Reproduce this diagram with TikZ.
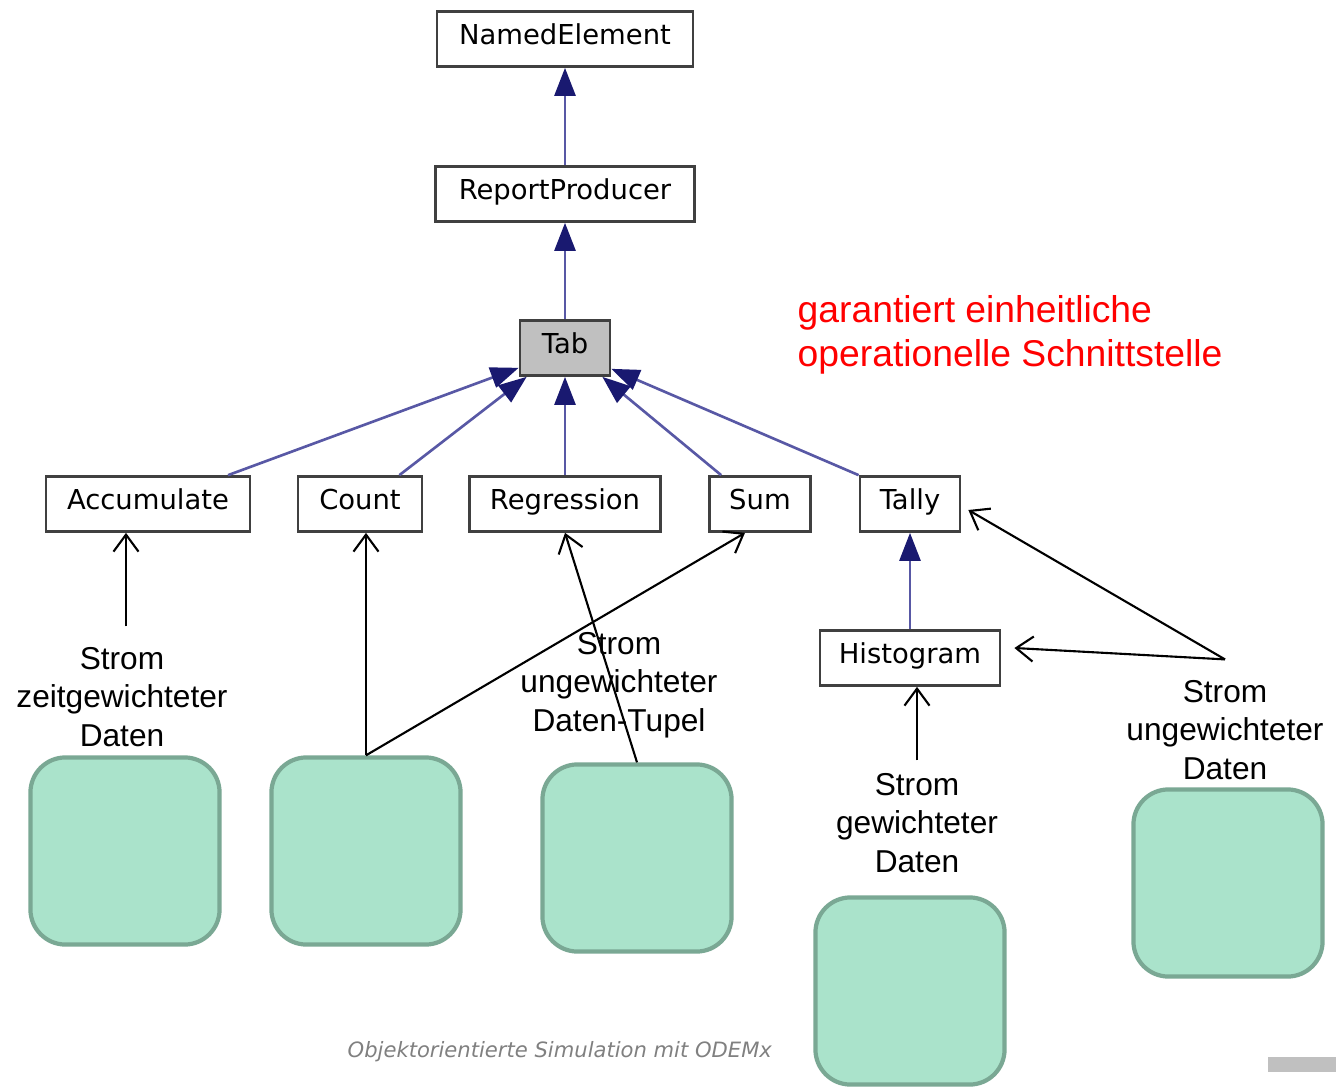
\documentclass[tikz,border=0pt]{standalone}
\usepackage{fontspec}
\setmainfont{Liberation Sans}
\newfontfamily\umlfont{DejaVu Sans}
\usetikzlibrary{calc,arrows.meta}

\definecolor{umlline}{RGB}{88,88,165}
\definecolor{umlhead}{RGB}{25,25,112}
\definecolor{tabgray}{RGB}{192,192,192}
\definecolor{srcfill}{RGB}{170,227,203}
\definecolor{srcdraw}{RGB}{122,168,148}
\definecolor{footgray}{RGB}{128,128,128}

\tikzset{
  umlclass/.style={draw=black!75, line width=0.75pt, minimum height=0.55cm, inner sep=0pt,
    text height=5.7pt, text depth=2.3pt, font=\umlfont\fontsize{7.8}{9}\selectfont},
  gen/.style={draw=umlline, line width=0.75pt, -{Triangle[length=0.28cm,width=0.21cm,color=umlhead]}},
  flow/.style={draw=black, line width=0.6pt, -{Straight Barb[length=0.17cm,width=0.25cm]}},
  source/.style={draw=srcdraw, fill=srcfill, line width=1.2pt, rounded corners=0.35cm,
    minimum width=1.89cm, minimum height=1.87cm},
  stream/.style={align=center, inner xsep=0pt, inner ysep=0.2cm, font=\fontsize{9}{11}\selectfont},
}

\begin{document}
\begin{tikzpicture}[x=0.01cm,y=-0.01cm]
        \useasboundingbox (0,0) rectangle (1336,1088);

        \node (NamedElement) [umlclass, minimum width=2.56cm] at (565,39) {NamedElement};
        \node (ReportProducer) [umlclass, minimum width=2.59cm] at (565,194) {ReportProducer};
        \node (Tab) [umlclass, fill=tabgray, minimum width=0.90cm] at (565,348) {Tab};
        \node (Accumulate) [umlclass, minimum width=2.04cm] at (148,504) {Accumulate};
        \node (Count) [umlclass, minimum width=1.24cm] at (360,504) {Count};
        \node (Regression) [umlclass, minimum width=1.91cm] at (565,504) {Regression};
        \node (Sum) [umlclass, minimum width=1.01cm] at (760,504) {Sum};
        \node (Tally) [umlclass, minimum width=1.00cm] at (910,504) {Tally};
        \node (Histogram) [umlclass, minimum width=1.80cm] at (910,658) {Histogram};

        \draw[gen] (ReportProducer.north) -- (NamedElement.south);
        \draw[gen] (Tab.north) -- (ReportProducer.south);
        \draw[gen] ([xshift=0.8cm]Accumulate.north) -- ([yshift=0.09cm]Tab.south west);
        \draw[gen] ([xshift=-0.24cm]Count.north east) -- ([xshift=0.08cm]Tab.south west);
        \draw[gen] (Regression.north) -- (Tab.south);
        \draw[gen] ([xshift=0.13cm]Sum.north west) -- ([xshift=-0.09cm]Tab.south east);
        \draw[gen] (Tally.north west) -- ([yshift=0.08cm]Tab.south east);
        \draw[gen] (Histogram.north) -- (Tally.south);

        \node (srcA) [source] at (125,851) {};
        \node (srcB) [source] at (366,851) {};
        \node (srcC) [source] at (637,858) {};
        \node (srcD) [source] at (910,991) {};
        \node (srcE) [source] at (1228,883) {};

        \node (lblA) [stream] at (122,697) {Strom\\zeitgewichteter\\Daten};
        \node (lblC) [stream] at (619,685) {Strom\\ungewichteter\\Daten-Tupel};
        \node (lblD) [stream] at (917,823) {Strom\\gewichteter\\Daten};
        \node (lblE) [stream] at (1225,730) {Strom\\ungewichteter\\Daten};

        \draw[flow] ([xshift=0.04cm]lblA.north) -- ([xshift=0.04cm]lblA.north |- Accumulate.south);
        \draw[flow] (srcB.north) -- (srcB.north |- Count.south);
        \draw[flow] (srcB.north) -- ([xshift=-0.15cm]Sum.south);
        \draw[flow] (srcC.north) -- (Regression.south);
        \draw[flow] ([yshift=-0.08cm]lblD.north) -- (lblD.north |- Histogram.south);
        \draw[flow] (lblE.north) -- ([xshift=0.13cm,yshift=0.1cm]Histogram.east);
        \draw[flow] (lblE.north) -- ([xshift=0.07cm,yshift=-0.06cm]Tally.east);

        \node (note) [red, anchor=west, align=left, inner sep=0pt, font=\fontsize{10.6}{12.5}\selectfont]
            at (797,335) {garantiert einheitliche\\operationelle Schnittstelle};

        \node (footer) [footgray, anchor=west, inner sep=0pt, font=\umlfont\itshape\fontsize{6}{7}\selectfont]
            at (347,1052) {Objektorientierte Simulation mit ODEMx};
        \fill[tabgray] (1268,1057) rectangle (1336,1072);
    \end{tikzpicture}
\end{document}
